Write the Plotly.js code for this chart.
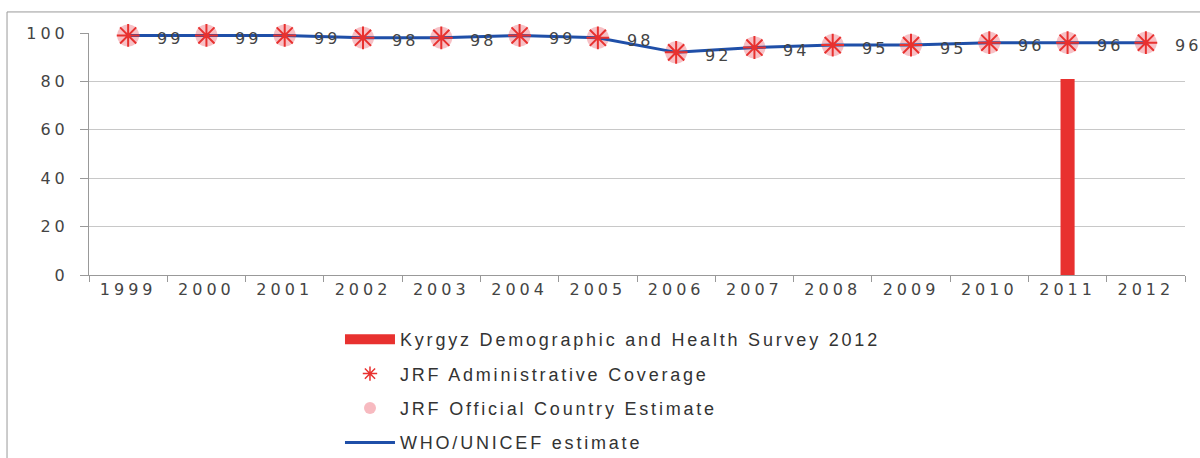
<!DOCTYPE html>
<html><head><meta charset="utf-8">
<script src="https://cdn.plot.ly/plotly-3.0.1.min.js"></script>
<style>
html,body{margin:0;padding:0;background:#fff;}
#chart{width:1200px;height:458px;}
#chart .xtick text, #chart .ytick text {letter-spacing:4px;}
#chart .annotation-text {letter-spacing:3px;}
#chart .legendtext {letter-spacing:2.8px;}
#chart .legend .scrollbox {clip-path:none !important;}
#chart .legend .bg {display:none;}
</style>
</head><body><div id="chart"></div>
<script>
const years = ['1999','2000','2001','2002','2003','2004','2005','2006','2007','2008','2009','2010','2011','2012'];
const surveyYears = ['2011'];
const surveyValues = [81];
const adminCoverage = [99,99,99,98,98,99,98,92,94,95,95,96,96,96];
const officialEstimate = [99,99,99,98,98,99,98,92,94,95,95,96,96,96];
const whoUnicef = [99,99,99,98,98,99,98,92,94,95,95,96,96,96];
const yTicks = [0,20,40,60,80,100];

const tickFont = {family:'DejaVu Sans, Verdana, sans-serif', size:16, color:'#444'};
const RED = '#e8312f';

const traces = [
  {type:'bar', x:surveyYears, y:surveyValues, name:'Kyrgyz Demographic and Health Survey 2012',
   marker:{color:RED}, width:0.18, showlegend:false},
  {type:'scatter', mode:'markers', x:years, y:officialEstimate, name:'JRF Official Country Estimate',
   marker:{symbol:'circle', size:22, color:'rgba(240,130,140,0.5)'}, showlegend:false, cliponaxis:false},
  {type:'scatter', mode:'lines', x:years, y:whoUnicef, name:'WHO/UNICEF estimate',
   line:{color:'#1f4fa8', width:3}, showlegend:false, cliponaxis:false},
  {type:'scatter', mode:'markers', x:years, y:adminCoverage, name:'JRF Administrative Coverage',
   marker:{symbol:'asterisk-open', size:19, color:RED, line:{color:RED, width:2}}, showlegend:false, cliponaxis:false},
  // legend entries
  {type:'scatter', mode:'lines', x:[null], y:[null], name:'Kyrgyz Demographic and Health Survey 2012',
   line:{color:RED, width:10}, legendgroup:'a', hoverinfo:'skip'},
  {type:'scatter', mode:'markers', x:[null], y:[null], name:'JRF Administrative Coverage',
   marker:{symbol:'asterisk-open', size:12, color:RED, line:{color:RED, width:1.5}}, legendgroup:'b', hoverinfo:'skip'},
  {type:'scatter', mode:'markers', x:[null], y:[null], name:'JRF Official Country Estimate',
   marker:{symbol:'circle', size:12, color:'rgba(240,130,140,0.55)'}, legendgroup:'c', hoverinfo:'skip'},
  {type:'scatter', mode:'lines', x:[null], y:[null], name:'WHO/UNICEF estimate',
   line:{color:'#1f4fa8', width:3}, legendgroup:'d', hoverinfo:'skip'}
];

const annotations = years.map((yr,i)=>({
  x: i, y: whoUnicef[i], xref:'x', yref:'y', text: String(whoUnicef[i]),
  showarrow:false, xshift:42, yshift:-3,
  font:{family:'DejaVu Sans, Verdana, sans-serif', size:16, color:'#444'}
}));

const layout = {
  width:1200, height:458,
  margin:{l:89, r:15, t:33, b:183, autoexpand:false},
  paper_bgcolor:'#fff', plot_bgcolor:'#fff',
  showlegend:true,
  barmode:'overlay',
  xaxis:{type:'category', categoryorder:'array', categoryarray:years, range:[-0.5,13.5],
    showline:true, linecolor:'#999', linewidth:1, ticks:'outside', tickson:'boundaries',
    ticklen:6, tickcolor:'#999', showgrid:false, tickfont:tickFont, zeroline:false},
  yaxis:{range:[0,100], tickvals:yTicks, showline:true, linecolor:'#999', linewidth:1,
    ticks:'outside', ticklen:8, tickcolor:'#999', showgrid:true, gridcolor:'#c8c8c8', gridwidth:1,
    tickfont:tickFont, zeroline:false, ticklabelstandoff:8},
  legend:{orientation:'v', x:0.229, xanchor:'left', y:-0.19, yanchor:'top',
    traceorder:'grouped', tracegroupgap:8, itemwidth:50, bgcolor:'rgba(0,0,0,0)',
    font:{family:'Liberation Sans, Arial, sans-serif', size:18, color:'#333'}},
  annotations: annotations,
  shapes:[{type:'rect', xref:'paper', yref:'paper', x0:-0.0748, x1:1.02, y0:-0.8, y1:1.087,
    line:{color:'#999', width:1}, fillcolor:'rgba(0,0,0,0)', layer:'below'}]
};

Plotly.newPlot('chart', traces, layout, {displayModeBar:false, staticPlot:true});
</script></body></html>
